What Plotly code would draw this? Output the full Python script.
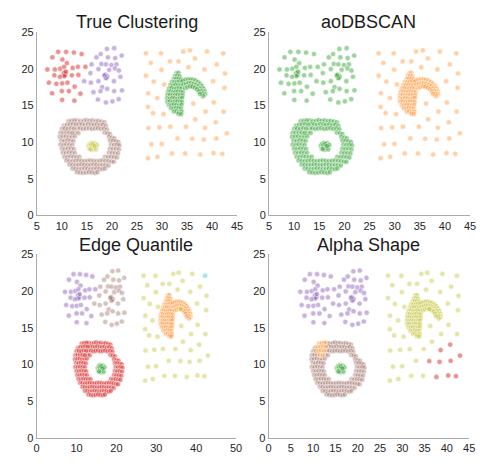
import plotly.graph_objects as go

# ---------------------------------------------------------------------------
# Point groups (x, y) of the compound-shaped dataset
# ---------------------------------------------------------------------------

# sparse cluster, upper left
red_x = [9.25, 10.85, 12.4, 13.95, 8.1, 10.1, 7.1, 8.6, 11.0, 12.15, 13.2, 14.7,
         9.65, 10.45, 10.3, 10.6, 10.4, 10.7, 10.5, 10.8, 8.5, 9.6, 12.0, 13.3,
         7.4, 8.9, 10.05, 11.1, 12.55, 8.05, 10.0, 11.4, 13.7, 10.05, 12.5]
red_y = [22.3, 22.3, 22.2, 22.0, 21.55, 21.25, 19.9, 19.9, 20.75, 20.1, 20.25, 20.25,
         20.0, 20.25, 19.1, 19.5, 19.4, 19.2, 19.0, 19.6, 19.1, 18.9, 19.1, 19.15,
         18.1, 17.95, 18.0, 18.1, 17.55, 16.65, 16.95, 16.95, 16.6, 15.75, 15.65]

# sparse cluster, upper middle
purple_x = [19.0, 20.45, 17.75, 16.9, 19.2, 20.65, 21.95, 15.95, 17.9, 18.8, 19.9, 20.9,
            17.3, 19.45, 20.6, 21.4, 18.6, 18.9, 18.7, 19.05, 18.8, 18.5, 14.45, 15.8,
            17.3, 20.4, 21.7, 18.05, 16.3, 17.7, 19.05, 20.45, 22.0, 17.2, 18.8, 20.1,
            21.35, 15.7]
purple_y = [22.7, 22.8, 22.0, 21.55, 21.55, 21.45, 21.8, 20.6, 20.65, 20.6, 20.5, 20.6,
            19.95, 19.85, 20.05, 19.75, 19.0, 18.8, 19.2, 18.95, 18.7, 19.1, 18.3, 18.1,
            18.3, 18.3, 18.9, 17.5, 16.8, 16.95, 17.25, 16.95, 17.05, 15.8, 15.4, 15.55,
            15.85, 19.4]

# widely spread background points on the right
sparse_main_x = [26.8, 29.8, 34.25, 35.6, 39.0, 36.6, 31.6, 33.3, 27.75, 35.3, 40.95,
                 38.5, 29.9, 26.8, 42.6, 28.35, 30.45, 40.2, 27.25, 29.05, 42.5, 40.35,
                 36.25, 27.2, 28.2, 30.3, 38.7, 42.3, 36.65, 27.3, 29.5, 31.65, 34.8,
                 33.1, 27.9, 29.95, 32.0, 34.65, 27.2, 29.1, 36.1]
sparse_main_y = [22.1, 22.1, 22.35, 22.5, 22.35, 21.4, 21.0, 21.0, 20.8, 20.2, 20.6,
                 19.9, 19.85, 19.05, 19.35, 18.25, 17.85, 18.3, 16.65, 16.0, 17.4, 15.4,
                 15.25, 14.8, 13.95, 13.8, 14.15, 14.15, 13.1, 11.9, 12.0, 12.1, 12.1,
                 10.5, 9.7, 9.75, 8.45, 8.45, 7.8, 8.0, 17.55]
sparse_se_x = [40.75, 38.6, 42.95, 36.05, 38.35, 40.85, 37.65, 40.3, 42.05]
sparse_se_y = [12.7, 11.95, 11.2, 10.45, 10.35, 10.5, 8.3, 8.5, 8.4]
sparse_ne_x = [42.25]
sparse_ne_y = [22.1]

# horseshoe: left lobe with knob, then the curved arm
horseshoe_x = [32.9, 33.3,
               32.6, 33.05, 33.5,
               32.4, 32.85, 33.3, 33.75,
               32.0, 32.5, 33.0, 33.5, 33.95,
               31.7, 32.2, 32.7, 33.2, 33.7,
               31.4, 31.9, 32.4, 32.9, 33.4, 33.9,
               31.2, 31.7, 32.2, 32.7, 33.2, 33.7, 34.15,
               31.1, 31.6, 32.1, 32.6, 33.1, 33.6, 34.1,
               31.05, 31.55, 32.05, 32.55, 33.05, 33.55, 34.0,
               31.1, 31.6, 32.1, 32.6, 33.1, 33.6, 34.0,
               31.4, 31.9, 32.4, 32.9, 33.4, 33.9,
               31.8, 32.3, 32.8, 33.3, 33.8,
               32.4, 32.9, 33.4, 33.9,
               33.3, 33.8,
               34.2, 34.7, 35.2, 35.7, 36.2, 36.7, 37.2, 37.6, 38.0, 38.3, 38.55, 38.6,
               34.3, 34.8, 35.3, 35.8, 36.3, 36.8, 37.2, 37.6, 37.9, 38.1, 38.2,
               34.6, 35.1, 35.6, 36.1, 36.6, 37.0, 37.35, 37.6]
horseshoe_y = [19.4, 19.45,
               19.0, 19.05, 18.95,
               18.6, 18.65, 18.6, 18.55,
               18.2, 18.15, 18.2, 18.25, 18.2,
               17.75, 17.7, 17.8, 17.75, 17.7,
               17.3, 17.35, 17.25, 17.3, 17.35, 17.3,
               16.85, 16.9, 16.8, 16.85, 16.9, 16.85, 16.8,
               16.4, 16.45, 16.35, 16.4, 16.45, 16.4, 16.35,
               15.95, 15.9, 16.0, 15.95, 15.9, 15.95, 16.0,
               15.5, 15.55, 15.45, 15.5, 15.55, 15.5, 15.45,
               15.05, 15.0, 15.1, 15.05, 15.0, 15.05,
               14.6, 14.55, 14.65, 14.6, 14.55,
               14.15, 14.2, 14.1, 14.15,
               13.85, 13.8,
               18.4, 18.5, 18.55, 18.55, 18.5, 18.4, 18.2, 17.95, 17.65, 17.3, 16.9, 16.5,
               17.85, 17.95, 18.05, 18.05, 17.95, 17.8, 17.6, 17.3, 16.95, 16.6, 16.25,
               17.35, 17.5, 17.6, 17.55, 17.4, 17.2, 16.9, 16.55]

# thick ring around the small core, listed row by row from the top
ring_main_x = [13.1, 13.7, 14.35, 14.9, 15.5, 16.1, 16.75, 17.3, 17.9, 18.5,
               10.4, 13.4, 14.0, 14.6, 15.2, 15.85, 16.4, 17.0, 17.6, 18.2, 18.8,
               10.0, 13.05, 13.6, 14.2, 14.8, 15.4, 16.0, 16.6, 17.2, 17.8, 18.4, 19.0,
               9.7, 10.3, 10.9, 12.7, 13.3, 18.5, 19.1, 19.6,
               9.6, 10.2, 10.8, 11.4, 12.0, 12.6, 19.4, 20.0, 20.5,
               9.9, 10.5, 11.1, 11.7, 12.3, 19.6, 20.2, 20.8, 21.3,
               9.7, 10.3, 10.9, 11.5, 12.1, 19.8, 20.4, 21.0, 21.5,
               10.0, 10.6, 11.2, 11.8, 12.4, 19.6, 20.2, 20.8, 21.4,
               10.2, 10.8, 11.4, 12.0, 12.6, 19.4, 20.0, 20.6, 21.2,
               10.5, 11.1, 11.7, 12.3, 12.9, 13.5, 18.6, 19.2, 19.8, 20.4, 21.0,
               10.9, 11.5, 12.1, 12.7, 13.3, 13.9, 14.5, 15.1, 15.7, 16.3, 16.9, 17.5,
               18.1, 18.7, 19.3, 19.9, 20.4,
               11.5, 12.1, 12.7, 13.3, 13.9, 14.5, 15.1, 15.7, 16.3, 16.9, 17.5, 18.1,
               18.7, 19.3,
               12.1, 12.7, 13.3, 13.9, 14.5, 15.1, 15.7, 16.3, 16.9, 17.5, 18.1, 18.6,
               13.0, 13.6, 14.2, 14.8, 15.4, 16.0, 16.6, 17.1]
ring_main_y = [12.95, 12.85, 12.9, 13.0, 12.9, 12.95, 12.85, 12.9, 12.8, 12.7,
               12.25, 12.45, 12.4, 12.35, 12.45, 12.4, 12.35, 12.4, 12.3, 12.35, 12.2,
               11.8, 11.85, 11.9, 11.8, 11.85, 11.9, 11.8, 11.85, 11.9, 11.8, 11.85, 11.7,
               11.25, 11.3, 11.35, 11.3, 11.25, 11.3, 11.2, 11.1,
               10.7, 10.75, 10.8, 10.7, 10.75, 10.8, 10.7, 10.6, 10.5,
               10.2, 10.15, 10.25, 10.2, 10.15, 10.2, 10.15, 10.1, 10.0,
               9.65, 9.6, 9.7, 9.65, 9.6, 9.65, 9.6, 9.65, 9.55,
               9.1, 9.05, 9.15, 9.1, 9.05, 9.1, 9.05, 9.1, 9.0,
               8.55, 8.5, 8.6, 8.55, 8.5, 8.55, 8.5, 8.5, 8.45,
               8.0, 7.95, 8.05, 8.0, 7.95, 8.0, 8.0, 7.95, 8.0, 7.95, 7.9,
               7.5, 7.45, 7.4, 7.45, 7.5, 7.45, 7.4, 7.45, 7.5, 7.45, 7.4, 7.45,
               7.5, 7.45, 7.4, 7.35, 7.3,
               6.95, 6.9, 6.85, 6.9, 6.95, 6.9, 6.85, 6.9, 6.95, 6.9, 6.85, 6.9,
               6.85, 6.8,
               6.4, 6.35, 6.3, 6.35, 6.4, 6.35, 6.3, 6.35, 6.4, 6.35, 6.3, 6.4,
               5.9, 5.85, 5.8, 5.85, 5.9, 5.85, 5.8, 5.9]
ring_nw_x = [11.3, 11.9, 12.5, 11.0, 11.6, 12.2, 12.8, 10.6, 11.2, 11.8, 12.4, 11.5, 12.1]
ring_nw_y = [12.85, 12.9, 12.95, 12.35, 12.4, 12.45, 12.4, 11.85, 11.8, 11.9, 11.85,
             11.3, 11.25]

# small dense core inside the ring
core_x = [15.3, 15.5, 15.6, 15.9, 16.0, 16.1, 16.3, 16.4, 16.6, 16.7, 16.8, 17.0,
          15.8, 16.2, 16.5, 15.7]
core_y = [9.5, 9.1, 9.8, 9.3, 9.9, 8.95, 9.55, 9.2, 9.85, 9.4, 9.0, 9.6,
          9.6, 9.75, 9.45, 9.05]

# ---------------------------------------------------------------------------
# Labels per method: (group, colour) in drawing order
# ---------------------------------------------------------------------------
groups = {
    "red": (red_x, red_y),
    "purple": (purple_x, purple_y),
    "sparse_main": (sparse_main_x, sparse_main_y),
    "sparse_se": (sparse_se_x, sparse_se_y),
    "sparse_ne": (sparse_ne_x, sparse_ne_y),
    "horseshoe": (horseshoe_x, horseshoe_y),
    "ring_main": (ring_main_x, ring_main_y),
    "ring_nw": (ring_nw_x, ring_nw_y),
    "core": (core_x, core_y),
}

# tab10 hues, translucent fill
palette = {
    "red": "rgba(214,39,40,0.5)", "purple": "rgba(148,103,189,0.5)",
    "orange": "rgba(255,127,14,0.36)", "green": "rgba(44,160,44,0.46)",
    "brown": "rgba(140,86,75,0.36)", "olive": "rgba(188,189,34,0.4)",
    "cyan": "rgba(23,190,207,0.4)",
}

titles = ["True Clustering", "aoDBSCAN", "Edge Quantile", "Alpha Shape"]

labelings = [
    [("sparse_main", "orange"), ("sparse_se", "orange"), ("sparse_ne", "orange"),
     ("red", "red"), ("purple", "purple"), ("horseshoe", "green"),
     ("ring_main", "brown"), ("ring_nw", "brown"), ("core", "olive")],
    [("sparse_main", "orange"), ("sparse_se", "orange"), ("sparse_ne", "orange"),
     ("horseshoe", "orange"), ("red", "green"), ("purple", "green"),
     ("ring_main", "green"), ("ring_nw", "green"), ("core", "green")],
    [("horseshoe", "orange"), ("sparse_main", "olive"), ("sparse_se", "olive"),
     ("sparse_ne", "cyan"), ("red", "purple"), ("purple", "brown"),
     ("ring_main", "red"), ("ring_nw", "red"), ("core", "green")],
    [("horseshoe", "olive"), ("sparse_main", "olive"), ("sparse_ne", "olive"),
     ("sparse_se", "red"), ("red", "purple"), ("purple", "purple"),
     ("ring_main", "brown"), ("ring_nw", "orange"), ("core", "green")],
]

x_ranges = [[5, 45], [5, 45], [0, 50], [0, 45]]
x_ticks = [list(range(5, 50, 5)), list(range(5, 50, 5)),
           list(range(0, 60, 10)), list(range(0, 50, 5))]
y_ticks = [0, 5, 10, 15, 20, 25]

W, H = 483, 462
# panel boxes in pixels: left, right, top, bottom
boxes = [(34.5, 238.5, 26.7, 215.0), (271.0, 476.0, 26.7, 215.0),
         (34.3, 237.5, 255.0, 443.3), (270.7, 475.0, 255.0, 443.3)]
title_pos = [(136.5, 16), (372.5, 16), (135.7, 245), (372.5, 245)]

fig = go.Figure()
font_family = "Liberation Sans, Arial, sans-serif"

for i in range(4):
    xa = "x" if i == 0 else f"x{i + 1}"
    ya = "y" if i == 0 else f"y{i + 1}"
    for gname, cname in labelings[i]:
        gx, gy = groups[gname]
        fig.add_trace(go.Scatter(
            x=gx, y=gy, mode="markers", xaxis=xa, yaxis=ya, showlegend=False,
            hoverinfo="skip",
            marker=dict(size=5.2, color=palette[cname], opacity=1,
                        line=dict(width=0.6, color="rgba(255,255,255,0.85)")),
        ))

    l, r, t, b = boxes[i]
    axis_common = dict(showline=True, linecolor="#aaaaaa", linewidth=1,
                       showgrid=False, zeroline=False, ticks="",
                       tickfont=dict(size=11, color="#262626", family=font_family))
    xkey = "xaxis" if i == 0 else f"xaxis{i + 1}"
    ykey = "yaxis" if i == 0 else f"yaxis{i + 1}"
    fig.update_layout({
        xkey: dict(domain=[l / W, r / W], range=x_ranges[i], tickvals=x_ticks[i],
                   anchor=ya, **axis_common),
        ykey: dict(domain=[1 - b / H, 1 - t / H], range=[0, 25], tickvals=y_ticks,
                   anchor=xa, **axis_common),
    })
    tx, ty = title_pos[i]
    fig.add_annotation(text=titles[i], x=tx / W, y=1 - ty / H, xref="paper",
                       yref="paper", showarrow=False, xanchor="center",
                       yanchor="middle",
                       font=dict(size=18, color="#1a1a1a", family=font_family))

fig.update_layout(width=W, height=H, margin=dict(l=0, r=0, t=0, b=0),
                  paper_bgcolor="white", plot_bgcolor="white")

fig.write_html("out.html")
